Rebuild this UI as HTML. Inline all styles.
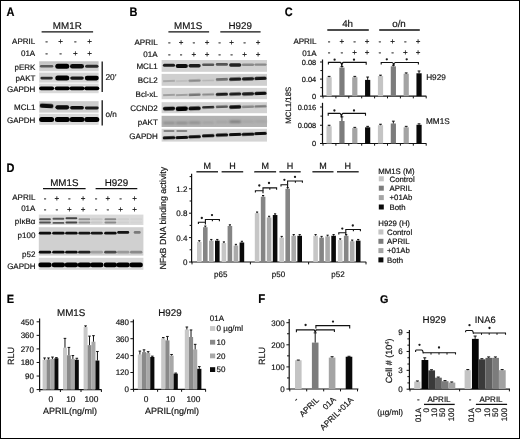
<!DOCTYPE html>
<html><head><meta charset="utf-8"><style>
html,body{margin:0;padding:0;background:#fff;}
#w{}
text{paint-order:stroke;stroke:#1a1a1a;stroke-width:0.18px;}

svg{display:block;}
text{font-family:"Liberation Sans",sans-serif;text-rendering:geometricPrecision;}
</style></head><body>
<div id="w"><svg width="520" height="439" viewBox="0 0 520 439">
<defs>
<filter id="b0" x="-30%" y="-100%" width="160%" height="300%"><feGaussianBlur stdDeviation="0.5"/></filter>
<filter id="b1" x="-30%" y="-100%" width="160%" height="300%"><feGaussianBlur stdDeviation="0.8"/></filter>
<linearGradient id="gA1" x1="0" y1="0" x2="0" y2="1"><stop offset="0" stop-color="#c2c2c2"/><stop offset="1" stop-color="#d6d6d6"/></linearGradient>
<filter id="b2" x="-30%" y="-100%" width="160%" height="300%"><feGaussianBlur stdDeviation="1.0"/></filter>
<filter id="nf" x="0" y="0" width="520" height="439" filterUnits="userSpaceOnUse"><feOffset dx="0" dy="0"/></filter>
</defs>
<rect width="520" height="439" fill="#fff"/>
<g filter="url(#nf)">
<rect x="0.5" y="0.5" width="519" height="438" fill="none" stroke="#000" stroke-width="1"/>
<text x="0" y="0" font-size="11" font-weight="bold" transform="translate(6.5 15.8) scale(1 1.12)" fill="#000">A</text>
<text x="67.3" y="28.8" font-size="9.8" text-anchor="middle" fill="#111">MM1R</text>
<line x1="41.6" y1="31.8" x2="93.1" y2="31.8" stroke="#111" stroke-width="1.3"/>
<text x="35.2" y="44.4" font-size="8" text-anchor="end" fill="#111">APRIL</text>
<text x="35.2" y="55.8" font-size="8" text-anchor="end" fill="#111">01A</text>
<text x="46.6" y="44.4" font-size="8" text-anchor="middle" fill="#111">-</text>
<text x="60.7" y="44.4" font-size="8" text-anchor="middle" fill="#111">+</text>
<text x="75.4" y="44.4" font-size="8" text-anchor="middle" fill="#111">-</text>
<text x="89.5" y="44.4" font-size="8" text-anchor="middle" fill="#111">+</text>
<text x="46.6" y="55.8" font-size="8" text-anchor="middle" fill="#111">-</text>
<text x="60.7" y="55.8" font-size="8" text-anchor="middle" fill="#111">-</text>
<text x="75.4" y="55.8" font-size="8" text-anchor="middle" fill="#111">+</text>
<text x="89.5" y="55.8" font-size="8" text-anchor="middle" fill="#111">+</text>
<rect x="39.20" y="61.30" width="59.40" height="10.00" fill="url(#gA1)"/>
<rect x="39.20" y="72.60" width="59.40" height="10.00" fill="#d4d4d4"/>
<rect x="39.20" y="83.60" width="59.40" height="9.60" fill="#dadada"/>
<rect x="39.20" y="101.20" width="59.40" height="11.40" fill="#cecece"/>
<rect x="39.20" y="113.80" width="59.40" height="11.00" fill="#d8d8d8"/>
<rect x="39.90" y="65.00" width="13.40" height="2.60" rx="1.30" fill="#5a5a5a" filter="url(#b0)"/>
<rect x="55.30" y="63.80" width="14.00" height="5.00" rx="2.50" fill="#040404" filter="url(#b0)"/>
<rect x="70.00" y="64.00" width="14.00" height="4.60" rx="2.30" fill="#101010" filter="url(#b0)"/>
<rect x="85.10" y="64.80" width="13.40" height="3.00" rx="1.50" fill="#2a2a2a" filter="url(#b0)"/>
<rect x="40.40" y="76.80" width="12.40" height="2.60" rx="1.30" fill="#2e2e2e" filter="url(#b0)"/>
<rect x="55.30" y="75.60" width="14.00" height="5.00" rx="2.50" fill="#000" filter="url(#b0)"/>
<rect x="70.20" y="76.40" width="13.60" height="3.40" rx="1.70" fill="#121212" filter="url(#b0)"/>
<rect x="84.80" y="75.80" width="14.00" height="4.60" rx="2.30" fill="#040404" filter="url(#b0)"/>
<rect x="39.10" y="86.40" width="15.00" height="3.80" rx="1.90" fill="#040404" filter="url(#b0)"/>
<rect x="54.80" y="86.40" width="15.00" height="3.80" rx="1.90" fill="#040404" filter="url(#b0)"/>
<rect x="69.50" y="86.40" width="15.00" height="3.80" rx="1.90" fill="#040404" filter="url(#b0)"/>
<rect x="84.30" y="86.40" width="15.00" height="3.80" rx="1.90" fill="#040404" filter="url(#b0)"/>
<rect x="39.70" y="103.80" width="13.80" height="4.20" rx="2.10" fill="#080808" filter="url(#b0)" transform="rotate(3 46.6 105.9)"/>
<rect x="55.40" y="105.20" width="13.80" height="4.20" rx="2.10" fill="#080808" filter="url(#b0)"/>
<rect x="70.10" y="106.10" width="13.80" height="3.40" rx="1.70" fill="#101010" filter="url(#b0)"/>
<rect x="84.90" y="106.60" width="13.80" height="2.80" rx="1.40" fill="#1a1a1a" filter="url(#b0)"/>
<rect x="39.10" y="117.00" width="15.00" height="5.00" rx="2.50" fill="#030303" filter="url(#b0)"/>
<rect x="54.80" y="117.00" width="15.00" height="5.00" rx="2.50" fill="#030303" filter="url(#b0)"/>
<rect x="69.50" y="117.00" width="15.00" height="5.00" rx="2.50" fill="#030303" filter="url(#b0)"/>
<rect x="84.30" y="117.00" width="15.00" height="5.00" rx="2.50" fill="#030303" filter="url(#b0)"/>
<text x="35.4" y="69.5" font-size="8" text-anchor="end" fill="#111">pERK</text>
<text x="35.4" y="81.10000000000001" font-size="8" text-anchor="end" fill="#111">pAKT</text>
<text x="35.4" y="91.9" font-size="8" text-anchor="end" fill="#111">GAPDH</text>
<text x="35.4" y="109.7" font-size="8" text-anchor="end" fill="#111">MCL1</text>
<text x="35.4" y="123.30000000000001" font-size="8" text-anchor="end" fill="#111">GAPDH</text>
<line x1="102.2" y1="61.5" x2="102.2" y2="92.0" stroke="#111" stroke-width="1.3"/>
<line x1="102.2" y1="100.2" x2="102.2" y2="125.5" stroke="#111" stroke-width="1.3"/>
<text x="105.4" y="79.7" font-size="8.4" fill="#111">20&#8217;</text>
<text x="105.4" y="117.4" font-size="8.2" fill="#111">o/n</text>
<text x="0" y="0" font-size="11" font-weight="bold" transform="translate(129.5 15.8) scale(1 1.12)" fill="#000">B</text>
<text x="188.2" y="28.9" font-size="9.8" text-anchor="middle" fill="#111">MM1S</text>
<text x="240.2" y="28.9" font-size="9.8" text-anchor="middle" fill="#111">H929</text>
<line x1="168.4" y1="31.9" x2="209.1" y2="31.9" stroke="#111" stroke-width="1.3"/>
<line x1="220.3" y1="31.9" x2="260.6" y2="31.9" stroke="#111" stroke-width="1.3"/>
<text x="157.6" y="45.0" font-size="8" text-anchor="end" fill="#111">APRIL</text>
<text x="157.6" y="57.4" font-size="8" text-anchor="end" fill="#111">01A</text>
<text x="169.4" y="45.0" font-size="8" text-anchor="middle" fill="#111">-</text>
<text x="181.0" y="45.0" font-size="8" text-anchor="middle" fill="#111">+</text>
<text x="193.8" y="45.0" font-size="8" text-anchor="middle" fill="#111">-</text>
<text x="207.0" y="45.0" font-size="8" text-anchor="middle" fill="#111">+</text>
<text x="219.5" y="45.0" font-size="8" text-anchor="middle" fill="#111">-</text>
<text x="231.6" y="45.0" font-size="8" text-anchor="middle" fill="#111">+</text>
<text x="244.6" y="45.0" font-size="8" text-anchor="middle" fill="#111">-</text>
<text x="258.0" y="45.0" font-size="8" text-anchor="middle" fill="#111">+</text>
<text x="169.4" y="57.4" font-size="8" text-anchor="middle" fill="#111">-</text>
<text x="181.0" y="57.4" font-size="8" text-anchor="middle" fill="#111">-</text>
<text x="193.8" y="57.4" font-size="8" text-anchor="middle" fill="#111">+</text>
<text x="207.0" y="57.4" font-size="8" text-anchor="middle" fill="#111">+</text>
<text x="219.5" y="57.4" font-size="8" text-anchor="middle" fill="#111">-</text>
<text x="231.6" y="57.4" font-size="8" text-anchor="middle" fill="#111">-</text>
<text x="244.6" y="57.4" font-size="8" text-anchor="middle" fill="#111">+</text>
<text x="258.0" y="57.4" font-size="8" text-anchor="middle" fill="#111">+</text>
<rect x="161.60" y="60.00" width="105.40" height="11.80" fill="#d2d2d2"/>
<text x="157.8" y="68.7" font-size="8" text-anchor="end" fill="#111">MCL1</text>
<rect x="161.60" y="73.90" width="105.40" height="11.90" fill="#cfcfcf"/>
<text x="157.8" y="82.5" font-size="8" text-anchor="end" fill="#111">BCL2</text>
<rect x="161.60" y="87.90" width="105.40" height="11.30" fill="#d4d4d4"/>
<text x="157.8" y="96.7" font-size="8" text-anchor="end" fill="#111">Bcl-xL</text>
<rect x="161.60" y="102.20" width="105.40" height="11.00" fill="#d2d2d2"/>
<text x="157.8" y="111.0" font-size="8" text-anchor="end" fill="#111">CCND2</text>
<rect x="161.60" y="115.80" width="105.40" height="11.20" fill="#b2b2b2"/>
<text x="157.8" y="125.3" font-size="8" text-anchor="end" fill="#111">pAKT</text>
<rect x="161.60" y="128.80" width="105.40" height="12.80" fill="#d4d4d4"/>
<text x="157.8" y="138.9" font-size="8" text-anchor="end" fill="#111">GAPDH</text>
<rect x="162.90" y="63.70" width="12.20" height="3.00" rx="1.50" fill="#1e1e1e" filter="url(#b0)"/>
<rect x="175.70" y="64.00" width="12.20" height="4.00" rx="2.00" fill="#0a0a0a" filter="url(#b0)"/>
<rect x="188.50" y="64.10" width="12.20" height="3.40" rx="1.70" fill="#1a1a1a" filter="url(#b0)"/>
<rect x="202.10" y="63.50" width="12.20" height="2.60" rx="1.30" fill="#555" filter="url(#b0)"/>
<rect x="215.80" y="63.00" width="12.20" height="2.80" rx="1.40" fill="#555" filter="url(#b0)"/>
<rect x="229.10" y="63.30" width="12.20" height="3.40" rx="1.70" fill="#202020" filter="url(#b0)"/>
<rect x="241.90" y="63.50" width="12.20" height="2.60" rx="1.30" fill="#8a8a8a" filter="url(#b0)"/>
<rect x="254.40" y="63.40" width="12.20" height="2.40" rx="1.20" fill="#8a8a8a" filter="url(#b0)"/>
<rect x="162.90" y="80.00" width="12.20" height="2.00" rx="1.00" fill="#aaa" filter="url(#b0)" transform="rotate(-2 169.0 81.0)"/>
<rect x="175.70" y="80.20" width="12.20" height="1.60" rx="0.80" fill="#bcbcbc" filter="url(#b0)" transform="rotate(-2 181.8 81.0)"/>
<rect x="188.50" y="79.40" width="12.20" height="2.40" rx="1.20" fill="#8a8a8a" filter="url(#b0)" transform="rotate(-2 194.6 80.6)"/>
<rect x="202.10" y="79.70" width="12.20" height="1.60" rx="0.80" fill="#b5b5b5" filter="url(#b0)" transform="rotate(-2 208.2 80.5)"/>
<rect x="215.80" y="78.10" width="12.20" height="2.60" rx="1.30" fill="#6e6e6e" filter="url(#b0)" transform="rotate(-2 221.9 79.4)"/>
<rect x="229.10" y="77.60" width="12.20" height="3.20" rx="1.60" fill="#1e1e1e" filter="url(#b0)" transform="rotate(-2 235.2 79.2)"/>
<rect x="241.90" y="77.20" width="12.20" height="3.20" rx="1.60" fill="#1a1a1a" filter="url(#b0)" transform="rotate(-2 248.0 78.8)"/>
<rect x="254.40" y="76.80" width="12.20" height="3.20" rx="1.60" fill="#141414" filter="url(#b0)" transform="rotate(-2 260.5 78.4)"/>
<rect x="162.90" y="94.10" width="12.20" height="1.80" rx="0.90" fill="#a0a0a0" filter="url(#b0)" transform="rotate(-2 169.0 95.0)"/>
<rect x="175.70" y="94.10" width="12.20" height="1.80" rx="0.90" fill="#a0a0a0" filter="url(#b0)" transform="rotate(-2 181.8 95.0)"/>
<rect x="188.50" y="93.60" width="12.20" height="2.40" rx="1.20" fill="#777" filter="url(#b0)" transform="rotate(-2 194.6 94.8)"/>
<rect x="202.10" y="93.60" width="12.20" height="2.00" rx="1.00" fill="#8a8a8a" filter="url(#b0)" transform="rotate(-2 208.2 94.6)"/>
<rect x="215.80" y="92.80" width="12.20" height="3.00" rx="1.50" fill="#1a1a1a" filter="url(#b0)" transform="rotate(-2 221.9 94.3)"/>
<rect x="229.10" y="92.40" width="12.20" height="3.20" rx="1.60" fill="#1a1a1a" filter="url(#b0)" transform="rotate(-2 235.2 94.0)"/>
<rect x="241.90" y="92.20" width="12.20" height="3.20" rx="1.60" fill="#1a1a1a" filter="url(#b0)" transform="rotate(-2 248.0 93.8)"/>
<rect x="254.40" y="91.70" width="12.20" height="3.40" rx="1.70" fill="#0a0a0a" filter="url(#b0)" transform="rotate(-2 260.5 93.4)"/>
<rect x="162.90" y="106.80" width="12.20" height="3.60" rx="1.80" fill="#0a0a0a" filter="url(#b0)" transform="rotate(-2 169.0 108.6)"/>
<rect x="175.70" y="106.60" width="12.20" height="4.40" rx="2.20" fill="#050505" filter="url(#b0)" transform="rotate(-2 181.8 108.8)"/>
<rect x="188.50" y="106.50" width="12.20" height="3.80" rx="1.90" fill="#0a0a0a" filter="url(#b0)" transform="rotate(-2 194.6 108.4)"/>
<rect x="202.10" y="105.90" width="12.20" height="2.60" rx="1.30" fill="#2a2a2a" filter="url(#b0)" transform="rotate(-2 208.2 107.2)"/>
<rect x="215.80" y="105.60" width="12.20" height="2.40" rx="1.20" fill="#5a5a5a" filter="url(#b0)" transform="rotate(-2 221.9 106.8)"/>
<rect x="229.10" y="105.30" width="12.20" height="3.40" rx="1.70" fill="#0a0a0a" filter="url(#b0)" transform="rotate(-2 235.2 107.0)"/>
<rect x="241.90" y="105.60" width="12.20" height="2.40" rx="1.20" fill="#8a8a8a" filter="url(#b0)" transform="rotate(-2 248.0 106.8)"/>
<rect x="254.40" y="105.20" width="12.20" height="2.40" rx="1.20" fill="#7a7a7a" filter="url(#b0)" transform="rotate(-2 260.5 106.4)"/>
<rect x="163.00" y="121.80" width="12.00" height="2.40" rx="1.20" fill="#8e8e8e" filter="url(#b1)"/>
<rect x="175.80" y="121.80" width="12.00" height="2.40" rx="1.20" fill="#8a8a8a" filter="url(#b1)"/>
<rect x="188.60" y="121.60" width="12.00" height="2.40" rx="1.20" fill="#8e8e8e" filter="url(#b1)"/>
<rect x="202.20" y="121.40" width="12.00" height="2.40" rx="1.20" fill="#a0a0a0" filter="url(#b1)"/>
<rect x="215.90" y="120.80" width="12.00" height="2.40" rx="1.20" fill="#a2a2a2" filter="url(#b1)"/>
<rect x="229.20" y="120.60" width="12.00" height="2.40" rx="1.20" fill="#7a7a7a" filter="url(#b1)"/>
<rect x="242.00" y="120.40" width="12.00" height="2.40" rx="1.20" fill="#a4a4a4" filter="url(#b1)"/>
<rect x="254.50" y="120.20" width="12.00" height="2.40" rx="1.20" fill="#a4a4a4" filter="url(#b1)"/>
<rect x="162.70" y="136.30" width="12.60" height="3.00" rx="1.50" fill="#0a0a0a" filter="url(#b0)" transform="rotate(-2 169.0 137.8)"/>
<rect x="175.50" y="135.90" width="12.60" height="3.00" rx="1.50" fill="#0a0a0a" filter="url(#b0)" transform="rotate(-2 181.8 137.4)"/>
<rect x="188.30" y="135.30" width="12.60" height="3.00" rx="1.50" fill="#0a0a0a" filter="url(#b0)" transform="rotate(-2 194.6 136.8)"/>
<rect x="201.90" y="134.30" width="12.60" height="3.00" rx="1.50" fill="#0a0a0a" filter="url(#b0)" transform="rotate(-2 208.2 135.8)"/>
<rect x="215.60" y="133.50" width="12.60" height="3.00" rx="1.50" fill="#0a0a0a" filter="url(#b0)" transform="rotate(-2 221.9 135.0)"/>
<rect x="228.90" y="133.10" width="12.60" height="3.00" rx="1.50" fill="#0a0a0a" filter="url(#b0)" transform="rotate(-2 235.2 134.6)"/>
<rect x="241.70" y="132.70" width="12.60" height="3.00" rx="1.50" fill="#0a0a0a" filter="url(#b0)" transform="rotate(-2 248.0 134.2)"/>
<rect x="254.20" y="132.10" width="12.60" height="3.00" rx="1.50" fill="#0a0a0a" filter="url(#b0)" transform="rotate(-2 260.5 133.6)"/>
<rect x="163.50" y="130.20" width="11.00" height="1.60" rx="0.80" fill="#6a6a6a" filter="url(#b0)"/>
<rect x="176.30" y="130.20" width="11.00" height="1.60" rx="0.80" fill="#6a6a6a" filter="url(#b0)"/>
<text x="0" y="0" font-size="11" font-weight="bold" transform="translate(284.7 15.9) scale(1 1.12)" fill="#000">C</text>
<text x="347.6" y="27.4" font-size="9.8" text-anchor="middle" fill="#111">4h</text>
<text x="399.0" y="27.4" font-size="9.8" text-anchor="middle" fill="#111">o/n</text>
<line x1="327.3" y1="30.0" x2="368.8" y2="30.0" stroke="#111" stroke-width="1.3"/>
<line x1="379.2" y1="30.0" x2="419.8" y2="30.0" stroke="#111" stroke-width="1.3"/>
<text x="316.5" y="44.4" font-size="8" text-anchor="end" fill="#111">APRIL</text>
<text x="316.5" y="55.6" font-size="8" text-anchor="end" fill="#111">01A</text>
<text x="329.1" y="43.9" font-size="8" text-anchor="middle" fill="#111">-</text>
<text x="341.8" y="43.9" font-size="8" text-anchor="middle" fill="#111">+</text>
<text x="354.5" y="43.9" font-size="8" text-anchor="middle" fill="#111">-</text>
<text x="367.20000000000005" y="43.9" font-size="8" text-anchor="middle" fill="#111">+</text>
<text x="379.90000000000003" y="43.9" font-size="8" text-anchor="middle" fill="#111">-</text>
<text x="392.6" y="43.9" font-size="8" text-anchor="middle" fill="#111">+</text>
<text x="405.3" y="43.9" font-size="8" text-anchor="middle" fill="#111">-</text>
<text x="418.0" y="43.9" font-size="8" text-anchor="middle" fill="#111">+</text>
<text x="329.1" y="55.2" font-size="8" text-anchor="middle" fill="#111">-</text>
<text x="341.8" y="55.2" font-size="8" text-anchor="middle" fill="#111">-</text>
<text x="354.5" y="55.2" font-size="8" text-anchor="middle" fill="#111">+</text>
<text x="367.20000000000005" y="55.2" font-size="8" text-anchor="middle" fill="#111">+</text>
<text x="379.90000000000003" y="55.2" font-size="8" text-anchor="middle" fill="#111">-</text>
<text x="392.6" y="55.2" font-size="8" text-anchor="middle" fill="#111">-</text>
<text x="405.3" y="55.2" font-size="8" text-anchor="middle" fill="#111">+</text>
<text x="418.0" y="55.2" font-size="8" text-anchor="middle" fill="#111">+</text>
<line x1="322.5" y1="59.5" x2="322.5" y2="96.6" stroke="#111" stroke-width="1.2"/>
<line x1="322.5" y1="96.2" x2="426.4" y2="96.2" stroke="#111" stroke-width="1.2"/>
<line x1="320.0" y1="62.0" x2="322.5" y2="62.0" stroke="#111" stroke-width="1"/>
<text x="316.2" y="64.7" font-size="7.4" text-anchor="end" fill="#111">0.08</text>
<line x1="320.0" y1="79.1" x2="322.5" y2="79.1" stroke="#111" stroke-width="1"/>
<text x="316.2" y="81.8" font-size="7.4" text-anchor="end" fill="#111">0.04</text>
<line x1="320.0" y1="96.2" x2="322.5" y2="96.2" stroke="#111" stroke-width="1"/>
<text x="316.2" y="98.9" font-size="7.4" text-anchor="end" fill="#111">0</text>
<line x1="320.4" y1="70.55" x2="322.5" y2="70.55" stroke="#111" stroke-width="1"/>
<line x1="320.4" y1="87.65" x2="322.5" y2="87.65" stroke="#111" stroke-width="1"/>
<rect x="326.50" y="77.22" width="5.20" height="18.98" fill="#c4c4c4"/>
<line x1="329.1" y1="77.219" x2="329.1" y2="76.377" stroke="#111" stroke-width="1"/>
<line x1="327.70000000000005" y1="76.377" x2="330.5" y2="76.377" stroke="#111" stroke-width="1"/>
<rect x="339.35" y="67.60" width="5.20" height="28.60" fill="#7c7c7c"/>
<line x1="341.95000000000005" y1="67.60025" x2="341.95000000000005" y2="66.459" stroke="#111" stroke-width="1"/>
<line x1="340.55000000000007" y1="66.459" x2="343.35" y2="66.459" stroke="#111" stroke-width="1"/>
<rect x="352.20" y="77.22" width="5.20" height="18.98" fill="#a4a4a4"/>
<line x1="354.8" y1="77.219" x2="354.8" y2="76.377" stroke="#111" stroke-width="1"/>
<line x1="353.40000000000003" y1="76.377" x2="356.2" y2="76.377" stroke="#111" stroke-width="1"/>
<rect x="365.05" y="79.91" width="5.20" height="16.29" fill="#0a0a0a"/>
<line x1="367.65000000000003" y1="79.91225" x2="367.65000000000003" y2="77.061" stroke="#111" stroke-width="1"/>
<line x1="366.25000000000006" y1="77.061" x2="369.05" y2="77.061" stroke="#111" stroke-width="1"/>
<rect x="377.90" y="76.02" width="5.20" height="20.18" fill="#c4c4c4"/>
<line x1="380.5" y1="76.022" x2="380.5" y2="75.18" stroke="#111" stroke-width="1"/>
<line x1="379.1" y1="75.18" x2="381.9" y2="75.18" stroke="#111" stroke-width="1"/>
<rect x="390.75" y="66.32" width="5.20" height="29.88" fill="#7c7c7c"/>
<line x1="393.35" y1="66.31775" x2="393.35" y2="65.1765" stroke="#111" stroke-width="1"/>
<line x1="391.95000000000005" y1="65.1765" x2="394.75" y2="65.1765" stroke="#111" stroke-width="1"/>
<rect x="403.60" y="73.76" width="5.20" height="22.44" fill="#a4a4a4"/>
<line x1="406.20000000000005" y1="73.75625" x2="406.20000000000005" y2="72.91425" stroke="#111" stroke-width="1"/>
<line x1="404.80000000000007" y1="72.91425" x2="407.6" y2="72.91425" stroke="#111" stroke-width="1"/>
<rect x="416.45" y="73.29" width="5.20" height="22.91" fill="#0a0a0a"/>
<line x1="419.05" y1="73.286" x2="419.05" y2="70.9905" stroke="#111" stroke-width="1"/>
<line x1="417.65000000000003" y1="70.9905" x2="420.45" y2="70.9905" stroke="#111" stroke-width="1"/>
<line x1="323.0" y1="96.2" x2="323.0" y2="98.4" stroke="#111" stroke-width="1"/>
<line x1="335.9" y1="96.2" x2="335.9" y2="98.4" stroke="#111" stroke-width="1"/>
<line x1="348.8" y1="96.2" x2="348.8" y2="98.4" stroke="#111" stroke-width="1"/>
<line x1="361.7" y1="96.2" x2="361.7" y2="98.4" stroke="#111" stroke-width="1"/>
<line x1="374.6" y1="96.2" x2="374.6" y2="98.4" stroke="#111" stroke-width="1"/>
<line x1="387.5" y1="96.2" x2="387.5" y2="98.4" stroke="#111" stroke-width="1"/>
<line x1="400.4" y1="96.2" x2="400.4" y2="98.4" stroke="#111" stroke-width="1"/>
<line x1="413.3" y1="96.2" x2="413.3" y2="98.4" stroke="#111" stroke-width="1"/>
<line x1="426.2" y1="96.2" x2="426.2" y2="98.4" stroke="#111" stroke-width="1"/>
<path d="M328.4,64.6 L328.4,62.4 L340.2,62.4 Q341.6,62.6 341.8,66.2 Q342.0,62.6 343.4,62.4 L366.2,62.4 L366.2,64.8" stroke="#111" stroke-width="1.1" fill="none"/>
<circle cx="334.6" cy="59.7" r="1.15" fill="#1a1a1a"/>
<circle cx="354.0" cy="59.7" r="1.15" fill="#1a1a1a"/>
<path d="M381.2,64.6 L381.2,62.5 L392.2,62.5 Q393.4,62.7 393.7,65.4 Q394.0,62.7 395.2,62.5 L418.4,62.5 L418.4,64.6" stroke="#111" stroke-width="1.1" fill="none"/>
<circle cx="386.8" cy="59.3" r="1.15" fill="#1a1a1a"/>
<circle cx="406.7" cy="59.3" r="1.15" fill="#1a1a1a"/>
<line x1="322.5" y1="102.8" x2="322.5" y2="143.9" stroke="#111" stroke-width="1.2"/>
<line x1="322.5" y1="143.5" x2="426.4" y2="143.5" stroke="#111" stroke-width="1.2"/>
<line x1="320.0" y1="107.0" x2="322.5" y2="107.0" stroke="#111" stroke-width="1"/>
<text x="316.2" y="109.7" font-size="7.4" text-anchor="end" fill="#111">0.016</text>
<line x1="320.0" y1="125.25" x2="322.5" y2="125.25" stroke="#111" stroke-width="1"/>
<text x="316.2" y="127.95" font-size="7.4" text-anchor="end" fill="#111">0.008</text>
<line x1="320.0" y1="143.5" x2="322.5" y2="143.5" stroke="#111" stroke-width="1"/>
<text x="316.2" y="146.2" font-size="7.4" text-anchor="end" fill="#111">0</text>
<line x1="320.4" y1="116.125" x2="322.5" y2="116.125" stroke="#111" stroke-width="1"/>
<line x1="320.4" y1="134.375" x2="322.5" y2="134.375" stroke="#111" stroke-width="1"/>
<rect x="326.50" y="126.21" width="5.20" height="17.29" fill="#c4c4c4"/>
<line x1="329.1" y1="126.208125" x2="329.1" y2="125.251875" stroke="#111" stroke-width="1"/>
<line x1="327.70000000000005" y1="125.251875" x2="330.5" y2="125.251875" stroke="#111" stroke-width="1"/>
<rect x="339.35" y="121.01" width="5.20" height="22.49" fill="#7c7c7c"/>
<line x1="341.95000000000005" y1="121.006875" x2="341.95000000000005" y2="116.85687499999999" stroke="#111" stroke-width="1"/>
<line x1="340.55000000000007" y1="116.85687499999999" x2="343.35" y2="116.85687499999999" stroke="#111" stroke-width="1"/>
<rect x="352.20" y="128.10" width="5.20" height="15.40" fill="#a4a4a4"/>
<line x1="354.8" y1="128.1015625" x2="354.8" y2="127.3734375" stroke="#111" stroke-width="1"/>
<line x1="353.40000000000003" y1="127.3734375" x2="356.2" y2="127.3734375" stroke="#111" stroke-width="1"/>
<rect x="365.05" y="127.30" width="5.20" height="16.20" fill="#0a0a0a"/>
<line x1="367.65000000000003" y1="127.303125" x2="367.65000000000003" y2="126.346875" stroke="#111" stroke-width="1"/>
<line x1="366.25000000000006" y1="126.346875" x2="369.05" y2="126.346875" stroke="#111" stroke-width="1"/>
<rect x="377.90" y="125.20" width="5.20" height="18.30" fill="#c4c4c4"/>
<line x1="380.5" y1="125.204375" x2="380.5" y2="124.248125" stroke="#111" stroke-width="1"/>
<line x1="379.1" y1="124.248125" x2="381.9" y2="124.248125" stroke="#111" stroke-width="1"/>
<rect x="390.75" y="123.49" width="5.20" height="20.01" fill="#7c7c7c"/>
<line x1="393.35" y1="123.4934375" x2="393.35" y2="121.1684375" stroke="#111" stroke-width="1"/>
<line x1="391.95000000000005" y1="121.1684375" x2="394.75" y2="121.1684375" stroke="#111" stroke-width="1"/>
<rect x="403.60" y="127.30" width="5.20" height="16.20" fill="#a4a4a4"/>
<line x1="406.20000000000005" y1="127.303125" x2="406.20000000000005" y2="126.346875" stroke="#111" stroke-width="1"/>
<line x1="404.80000000000007" y1="126.346875" x2="407.6" y2="126.346875" stroke="#111" stroke-width="1"/>
<rect x="416.45" y="124.79" width="5.20" height="18.71" fill="#0a0a0a"/>
<line x1="419.05" y1="124.79375" x2="419.05" y2="123.8375" stroke="#111" stroke-width="1"/>
<line x1="417.65000000000003" y1="123.8375" x2="420.45" y2="123.8375" stroke="#111" stroke-width="1"/>
<line x1="323.0" y1="143.5" x2="323.0" y2="145.7" stroke="#111" stroke-width="1"/>
<line x1="335.9" y1="143.5" x2="335.9" y2="145.7" stroke="#111" stroke-width="1"/>
<line x1="348.8" y1="143.5" x2="348.8" y2="145.7" stroke="#111" stroke-width="1"/>
<line x1="361.7" y1="143.5" x2="361.7" y2="145.7" stroke="#111" stroke-width="1"/>
<line x1="374.6" y1="143.5" x2="374.6" y2="145.7" stroke="#111" stroke-width="1"/>
<line x1="387.5" y1="143.5" x2="387.5" y2="145.7" stroke="#111" stroke-width="1"/>
<line x1="400.4" y1="143.5" x2="400.4" y2="145.7" stroke="#111" stroke-width="1"/>
<line x1="413.3" y1="143.5" x2="413.3" y2="145.7" stroke="#111" stroke-width="1"/>
<line x1="426.2" y1="143.5" x2="426.2" y2="145.7" stroke="#111" stroke-width="1"/>
<path d="M328.2,115.7 L328.2,113.4 L339.9,113.4 Q341.2,113.6 341.4,117.4 Q341.6,113.6 342.9,113.4 L365.5,113.4 L365.5,115.7" stroke="#111" stroke-width="1.1" fill="none"/>
<circle cx="334.4" cy="110.5" r="1.15" fill="#1a1a1a"/>
<circle cx="354.0" cy="110.5" r="1.15" fill="#1a1a1a"/>
<text x="291.4" y="105.2" font-size="7.8" text-anchor="middle" transform="rotate(-90 291.4 105.2)" fill="#111">MCL1/18S</text>
<text x="426.2" y="80.0" font-size="8.2" fill="#111">H929</text>
<text x="426.0" y="124.0" font-size="8.2" fill="#111">MM1S</text>
<text x="0" y="0" font-size="11" font-weight="bold" transform="translate(6.6 171.8) scale(1 1.12)" fill="#000">D</text>
<text x="64.3" y="185.7" font-size="9.8" text-anchor="middle" fill="#111">MM1S</text>
<text x="116.4" y="185.7" font-size="9.8" text-anchor="middle" fill="#111">H929</text>
<line x1="43.0" y1="188.6" x2="85.6" y2="188.6" stroke="#111" stroke-width="1.3"/>
<line x1="95.6" y1="188.6" x2="137.3" y2="188.6" stroke="#111" stroke-width="1.3"/>
<text x="35.4" y="200.0" font-size="8" text-anchor="end" fill="#111">APRIL</text>
<text x="35.4" y="211.0" font-size="8" text-anchor="end" fill="#111">01A</text>
<text x="45.1" y="200.9" font-size="8" text-anchor="middle" fill="#111">-</text>
<text x="56.9" y="200.9" font-size="8" text-anchor="middle" fill="#111">+</text>
<text x="69.4" y="200.9" font-size="8" text-anchor="middle" fill="#111">-</text>
<text x="83.0" y="200.9" font-size="8" text-anchor="middle" fill="#111">+</text>
<text x="96.0" y="200.9" font-size="8" text-anchor="middle" fill="#111">-</text>
<text x="107.8" y="200.9" font-size="8" text-anchor="middle" fill="#111">+</text>
<text x="120.6" y="200.9" font-size="8" text-anchor="middle" fill="#111">-</text>
<text x="134.5" y="200.9" font-size="8" text-anchor="middle" fill="#111">+</text>
<text x="45.1" y="211.8" font-size="8" text-anchor="middle" fill="#111">-</text>
<text x="56.9" y="211.8" font-size="8" text-anchor="middle" fill="#111">-</text>
<text x="69.4" y="211.8" font-size="8" text-anchor="middle" fill="#111">+</text>
<text x="83.0" y="211.8" font-size="8" text-anchor="middle" fill="#111">+</text>
<text x="96.0" y="211.8" font-size="8" text-anchor="middle" fill="#111">-</text>
<text x="107.8" y="211.8" font-size="8" text-anchor="middle" fill="#111">-</text>
<text x="120.6" y="211.8" font-size="8" text-anchor="middle" fill="#111">+</text>
<text x="134.5" y="211.8" font-size="8" text-anchor="middle" fill="#111">+</text>
<rect x="38.80" y="214.60" width="104.60" height="10.40" fill="#dadada"/>
<rect x="38.80" y="227.20" width="104.60" height="28.40" fill="#d0d0d0"/>
<rect x="38.80" y="257.80" width="104.60" height="12.00" fill="#d8d8d8"/>
<text x="35.4" y="224.4" font-size="8" text-anchor="end" fill="#111">pI&#954;B&#945;</text>
<text x="35.4" y="237.6" font-size="8" text-anchor="end" fill="#111">p100</text>
<text x="35.4" y="256.6" font-size="8" text-anchor="end" fill="#111">p52</text>
<text x="35.6" y="268.8" font-size="8" text-anchor="end" fill="#111">GAPDH</text>
<rect x="39.10" y="218.25" width="11.80" height="1.90" rx="0.95" fill="#525252" filter="url(#b0)"/>
<rect x="39.10" y="221.55" width="11.80" height="1.90" rx="0.95" fill="#525252" filter="url(#b0)"/>
<rect x="52.50" y="217.75" width="11.80" height="1.90" rx="0.95" fill="#585858" filter="url(#b0)"/>
<rect x="52.50" y="221.95" width="11.80" height="1.90" rx="0.95" fill="#585858" filter="url(#b0)"/>
<rect x="65.50" y="217.25" width="11.80" height="1.90" rx="0.95" fill="#444444" filter="url(#b0)"/>
<rect x="65.50" y="221.55" width="11.80" height="1.90" rx="0.95" fill="#444444" filter="url(#b0)"/>
<rect x="78.50" y="218.25" width="11.80" height="1.90" rx="0.95" fill="#949494" filter="url(#b0)"/>
<rect x="78.50" y="221.55" width="11.80" height="1.90" rx="0.95" fill="#949494" filter="url(#b0)"/>
<rect x="90.90" y="218.25" width="11.80" height="1.90" rx="0.95" fill="#c8c8c8" filter="url(#b0)"/>
<rect x="90.90" y="221.55" width="11.80" height="1.90" rx="0.95" fill="#c8c8c8" filter="url(#b0)"/>
<rect x="104.50" y="218.25" width="11.80" height="1.90" rx="0.95" fill="#8a8a8a" filter="url(#b0)"/>
<rect x="104.50" y="221.55" width="11.80" height="1.90" rx="0.95" fill="#8a8a8a" filter="url(#b0)"/>
<rect x="117.30" y="218.25" width="11.80" height="1.90" rx="0.95" fill="#d0d0d0" filter="url(#b0)"/>
<rect x="117.30" y="221.55" width="11.80" height="1.90" rx="0.95" fill="#d0d0d0" filter="url(#b0)"/>
<rect x="130.30" y="218.25" width="11.80" height="1.90" rx="0.95" fill="#d4d4d4" filter="url(#b0)"/>
<rect x="130.30" y="221.55" width="11.80" height="1.90" rx="0.95" fill="#d4d4d4" filter="url(#b0)"/>
<rect x="38.80" y="231.80" width="12.40" height="2.80" rx="1.40" fill="#0c0c0c" filter="url(#b0)"/>
<rect x="52.20" y="231.80" width="12.40" height="2.80" rx="1.40" fill="#0c0c0c" filter="url(#b0)"/>
<rect x="65.20" y="231.80" width="12.40" height="2.80" rx="1.40" fill="#101010" filter="url(#b0)"/>
<rect x="78.40" y="231.80" width="12.00" height="2.80" rx="1.40" fill="#181818" filter="url(#b0)"/>
<rect x="90.80" y="231.80" width="12.00" height="2.80" rx="1.40" fill="#181818" filter="url(#b0)"/>
<rect x="104.20" y="231.80" width="12.40" height="2.80" rx="1.40" fill="#101010" filter="url(#b0)"/>
<rect x="117.20" y="231.00" width="12.00" height="2.80" rx="1.40" fill="#121212" filter="url(#b0)"/>
<rect x="133.70" y="231.00" width="7.00" height="2.80" rx="1.40" fill="#7a7a7a" filter="url(#b0)"/>
<rect x="38.80" y="250.80" width="12.40" height="2.80" rx="1.40" fill="#0c0c0c" filter="url(#b0)"/>
<rect x="52.20" y="250.80" width="12.40" height="2.80" rx="1.40" fill="#101010" filter="url(#b0)"/>
<rect x="65.20" y="250.80" width="12.40" height="2.80" rx="1.40" fill="#101010" filter="url(#b0)"/>
<rect x="78.20" y="250.80" width="12.40" height="2.80" rx="1.40" fill="#202020" filter="url(#b0)"/>
<rect x="90.60" y="250.80" width="12.40" height="2.80" rx="1.40" fill="#a0a0a0" filter="url(#b0)"/>
<rect x="104.20" y="250.80" width="12.40" height="2.80" rx="1.40" fill="#4a4a4a" filter="url(#b0)"/>
<rect x="117.00" y="250.80" width="12.40" height="2.80" rx="1.40" fill="#9a9a9a" filter="url(#b0)"/>
<rect x="130.00" y="250.80" width="12.40" height="2.80" rx="1.40" fill="#8a8a8a" filter="url(#b0)"/>
<rect x="38.30" y="262.60" width="13.40" height="4.60" rx="2.30" fill="#030303" filter="url(#b0)"/>
<rect x="51.70" y="262.60" width="13.40" height="4.60" rx="2.30" fill="#030303" filter="url(#b0)"/>
<rect x="64.70" y="262.60" width="13.40" height="4.60" rx="2.30" fill="#030303" filter="url(#b0)"/>
<rect x="77.70" y="262.60" width="13.40" height="4.60" rx="2.30" fill="#030303" filter="url(#b0)"/>
<rect x="90.10" y="262.60" width="13.40" height="4.60" rx="2.30" fill="#030303" filter="url(#b0)"/>
<rect x="103.70" y="262.60" width="13.40" height="4.60" rx="2.30" fill="#030303" filter="url(#b0)"/>
<rect x="116.50" y="262.60" width="13.40" height="4.60" rx="2.30" fill="#030303" filter="url(#b0)"/>
<rect x="129.50" y="262.60" width="13.40" height="4.60" rx="2.30" fill="#030303" filter="url(#b0)"/>
<line x1="191.6" y1="173.8" x2="191.6" y2="262.4" stroke="#111" stroke-width="1.2"/>
<line x1="191.6" y1="262.0" x2="366.2" y2="262.0" stroke="#111" stroke-width="1.2"/>
<line x1="189.0" y1="188.8" x2="191.6" y2="188.8" stroke="#111" stroke-width="1"/>
<text x="187.4" y="191.70000000000002" font-size="8" text-anchor="end" fill="#111">1.2</text>
<line x1="189.0" y1="213.2" x2="191.6" y2="213.2" stroke="#111" stroke-width="1"/>
<text x="187.4" y="216.1" font-size="8" text-anchor="end" fill="#111">0.8</text>
<line x1="189.0" y1="237.6" x2="191.6" y2="237.6" stroke="#111" stroke-width="1"/>
<text x="187.4" y="240.5" font-size="8" text-anchor="end" fill="#111">0.4</text>
<line x1="189.0" y1="262.0" x2="191.6" y2="262.0" stroke="#111" stroke-width="1"/>
<text x="187.4" y="264.9" font-size="8" text-anchor="end" fill="#111">0</text>
<line x1="189.6" y1="176.60000000000002" x2="191.6" y2="176.60000000000002" stroke="#111" stroke-width="1"/>
<line x1="189.6" y1="201.0" x2="191.6" y2="201.0" stroke="#111" stroke-width="1"/>
<line x1="189.6" y1="225.4" x2="191.6" y2="225.4" stroke="#111" stroke-width="1"/>
<line x1="189.6" y1="249.8" x2="191.6" y2="249.8" stroke="#111" stroke-width="1"/>
<line x1="192.0" y1="262.0" x2="192.0" y2="264.4" stroke="#111" stroke-width="1"/>
<line x1="250.4" y1="262.0" x2="250.4" y2="264.4" stroke="#111" stroke-width="1"/>
<line x1="308.6" y1="262.0" x2="308.6" y2="264.4" stroke="#111" stroke-width="1"/>
<line x1="366.0" y1="262.0" x2="366.0" y2="264.4" stroke="#111" stroke-width="1"/>
<text x="165.7" y="218.2" font-size="8.8" text-anchor="middle" transform="rotate(-90 165.7 218.2)" fill="#111">NF&#954;B DNA binding activity</text>
<rect x="197.00" y="241.87" width="4.60" height="20.13" fill="#c6c6c6"/>
<line x1="199.3" y1="241.87" x2="199.3" y2="240.67000000000002" stroke="#111" stroke-width="1"/>
<line x1="198.2" y1="240.67000000000002" x2="200.4" y2="240.67000000000002" stroke="#111" stroke-width="1"/>
<rect x="203.00" y="227.23" width="4.60" height="34.77" fill="#858585"/>
<line x1="205.3" y1="227.23000000000002" x2="205.3" y2="226.03000000000003" stroke="#111" stroke-width="1"/>
<line x1="204.2" y1="226.03000000000003" x2="206.4" y2="226.03000000000003" stroke="#111" stroke-width="1"/>
<rect x="209.00" y="240.65" width="4.60" height="21.35" fill="#aaaaaa"/>
<line x1="211.3" y1="240.65" x2="211.3" y2="239.45000000000002" stroke="#111" stroke-width="1"/>
<line x1="210.2" y1="239.45000000000002" x2="212.4" y2="239.45000000000002" stroke="#111" stroke-width="1"/>
<rect x="215.00" y="240.65" width="4.60" height="21.35" fill="#0a0a0a"/>
<line x1="217.3" y1="240.65" x2="217.3" y2="239.45000000000002" stroke="#111" stroke-width="1"/>
<line x1="216.2" y1="239.45000000000002" x2="218.4" y2="239.45000000000002" stroke="#111" stroke-width="1"/>
<rect x="221.60" y="243.09" width="4.60" height="18.91" fill="#c6c6c6"/>
<line x1="223.9" y1="243.09" x2="223.9" y2="241.89000000000001" stroke="#111" stroke-width="1"/>
<line x1="222.79999999999998" y1="241.89000000000001" x2="225.0" y2="241.89000000000001" stroke="#111" stroke-width="1"/>
<rect x="227.60" y="226.01" width="4.60" height="35.99" fill="#858585"/>
<line x1="229.9" y1="226.01" x2="229.9" y2="224.81" stroke="#111" stroke-width="1"/>
<line x1="228.79999999999998" y1="224.81" x2="231.0" y2="224.81" stroke="#111" stroke-width="1"/>
<rect x="233.60" y="245.53" width="4.60" height="16.47" fill="#aaaaaa"/>
<line x1="235.9" y1="245.53" x2="235.9" y2="244.33" stroke="#111" stroke-width="1"/>
<line x1="234.79999999999998" y1="244.33" x2="237.0" y2="244.33" stroke="#111" stroke-width="1"/>
<rect x="239.60" y="242.48" width="4.60" height="19.52" fill="#0a0a0a"/>
<line x1="241.9" y1="242.48000000000002" x2="241.9" y2="241.28000000000003" stroke="#111" stroke-width="1"/>
<line x1="240.79999999999998" y1="241.28000000000003" x2="243.0" y2="241.28000000000003" stroke="#111" stroke-width="1"/>
<rect x="254.80" y="213.20" width="4.60" height="48.80" fill="#c6c6c6"/>
<line x1="257.1" y1="213.2" x2="257.1" y2="212.0" stroke="#111" stroke-width="1"/>
<line x1="256.0" y1="212.0" x2="258.2" y2="212.0" stroke="#111" stroke-width="1"/>
<rect x="260.80" y="196.73" width="4.60" height="65.27" fill="#858585"/>
<line x1="263.1" y1="196.73000000000002" x2="263.1" y2="195.53000000000003" stroke="#111" stroke-width="1"/>
<line x1="262.0" y1="195.53000000000003" x2="264.2" y2="195.53000000000003" stroke="#111" stroke-width="1"/>
<rect x="266.80" y="217.47" width="4.60" height="44.53" fill="#aaaaaa"/>
<line x1="269.1" y1="217.47" x2="269.1" y2="216.27" stroke="#111" stroke-width="1"/>
<line x1="268.0" y1="216.27" x2="270.2" y2="216.27" stroke="#111" stroke-width="1"/>
<rect x="272.80" y="215.03" width="4.60" height="46.97" fill="#0a0a0a"/>
<line x1="275.1" y1="215.03" x2="275.1" y2="213.83" stroke="#111" stroke-width="1"/>
<line x1="274.0" y1="213.83" x2="276.2" y2="213.83" stroke="#111" stroke-width="1"/>
<rect x="279.40" y="237.60" width="4.60" height="24.40" fill="#c6c6c6"/>
<line x1="281.70000000000005" y1="237.6" x2="281.70000000000005" y2="236.4" stroke="#111" stroke-width="1"/>
<line x1="280.6" y1="236.4" x2="282.8" y2="236.4" stroke="#111" stroke-width="1"/>
<rect x="285.40" y="188.80" width="4.60" height="73.20" fill="#858585"/>
<line x1="287.70000000000005" y1="188.8" x2="287.70000000000005" y2="187.60000000000002" stroke="#111" stroke-width="1"/>
<line x1="286.6" y1="187.60000000000002" x2="288.8" y2="187.60000000000002" stroke="#111" stroke-width="1"/>
<rect x="291.40" y="235.77" width="4.60" height="26.23" fill="#aaaaaa"/>
<line x1="293.70000000000005" y1="235.77" x2="293.70000000000005" y2="234.57000000000002" stroke="#111" stroke-width="1"/>
<line x1="292.6" y1="234.57000000000002" x2="294.8" y2="234.57000000000002" stroke="#111" stroke-width="1"/>
<rect x="297.40" y="235.77" width="4.60" height="26.23" fill="#0a0a0a"/>
<line x1="299.70000000000005" y1="235.77" x2="299.70000000000005" y2="234.57000000000002" stroke="#111" stroke-width="1"/>
<line x1="298.6" y1="234.57000000000002" x2="300.8" y2="234.57000000000002" stroke="#111" stroke-width="1"/>
<rect x="313.30" y="235.77" width="4.60" height="26.23" fill="#c6c6c6"/>
<line x1="315.6" y1="235.77" x2="315.6" y2="234.57000000000002" stroke="#111" stroke-width="1"/>
<line x1="314.5" y1="234.57000000000002" x2="316.7" y2="234.57000000000002" stroke="#111" stroke-width="1"/>
<rect x="319.30" y="237.60" width="4.60" height="24.40" fill="#858585"/>
<line x1="321.6" y1="237.6" x2="321.6" y2="236.4" stroke="#111" stroke-width="1"/>
<line x1="320.5" y1="236.4" x2="322.7" y2="236.4" stroke="#111" stroke-width="1"/>
<rect x="325.30" y="236.38" width="4.60" height="25.62" fill="#aaaaaa"/>
<line x1="327.6" y1="236.38" x2="327.6" y2="235.18" stroke="#111" stroke-width="1"/>
<line x1="326.5" y1="235.18" x2="328.7" y2="235.18" stroke="#111" stroke-width="1"/>
<rect x="331.30" y="235.77" width="4.60" height="26.23" fill="#0a0a0a"/>
<line x1="333.6" y1="235.77" x2="333.6" y2="234.57000000000002" stroke="#111" stroke-width="1"/>
<line x1="332.5" y1="234.57000000000002" x2="334.7" y2="234.57000000000002" stroke="#111" stroke-width="1"/>
<rect x="337.90" y="240.04" width="4.60" height="21.96" fill="#c6c6c6"/>
<line x1="340.20000000000005" y1="240.04" x2="340.20000000000005" y2="238.84" stroke="#111" stroke-width="1"/>
<line x1="339.1" y1="238.84" x2="341.3" y2="238.84" stroke="#111" stroke-width="1"/>
<rect x="343.90" y="235.77" width="4.60" height="26.23" fill="#858585"/>
<line x1="346.20000000000005" y1="235.77" x2="346.20000000000005" y2="234.57000000000002" stroke="#111" stroke-width="1"/>
<line x1="345.1" y1="234.57000000000002" x2="347.3" y2="234.57000000000002" stroke="#111" stroke-width="1"/>
<rect x="349.90" y="241.26" width="4.60" height="20.74" fill="#aaaaaa"/>
<line x1="352.20000000000005" y1="241.26" x2="352.20000000000005" y2="240.06" stroke="#111" stroke-width="1"/>
<line x1="351.1" y1="240.06" x2="353.3" y2="240.06" stroke="#111" stroke-width="1"/>
<rect x="355.90" y="240.65" width="4.60" height="21.35" fill="#0a0a0a"/>
<line x1="358.20000000000005" y1="240.65" x2="358.20000000000005" y2="239.45000000000002" stroke="#111" stroke-width="1"/>
<line x1="357.1" y1="239.45000000000002" x2="359.3" y2="239.45000000000002" stroke="#111" stroke-width="1"/>
<text x="220.7" y="277.0" font-size="8" text-anchor="middle" fill="#111">p65</text>
<text x="278.5" y="277.0" font-size="8" text-anchor="middle" fill="#111">p50</text>
<text x="338.0" y="277.0" font-size="8" text-anchor="middle" fill="#111">p52</text>
<line x1="196.4" y1="171.8" x2="218.0" y2="171.8" stroke="#111" stroke-width="1.3"/>
<text x="207.2" y="169.0" font-size="9" text-anchor="middle" fill="#111">M</text>
<line x1="221.6" y1="171.8" x2="243.2" y2="171.8" stroke="#111" stroke-width="1.3"/>
<text x="232.39999999999998" y="169.0" font-size="9" text-anchor="middle" fill="#111">H</text>
<line x1="254.2" y1="171.8" x2="276.1" y2="171.8" stroke="#111" stroke-width="1.3"/>
<text x="265.15" y="169.0" font-size="9" text-anchor="middle" fill="#111">M</text>
<line x1="279.4" y1="171.8" x2="300.7" y2="171.8" stroke="#111" stroke-width="1.3"/>
<text x="290.04999999999995" y="169.0" font-size="9" text-anchor="middle" fill="#111">H</text>
<line x1="312.4" y1="171.8" x2="333.5" y2="171.8" stroke="#111" stroke-width="1.3"/>
<text x="322.95" y="169.0" font-size="9" text-anchor="middle" fill="#111">M</text>
<line x1="337.0" y1="171.8" x2="358.7" y2="171.8" stroke="#111" stroke-width="1.3"/>
<text x="347.85" y="169.0" font-size="9" text-anchor="middle" fill="#111">H</text>
<path d="M198.4,224.0 L198.4,222.2 L205.4,222.2 L205.4,224.6" stroke="#111" stroke-width="1.1" fill="none"/>
<path d="M205.4,222.2 L205.4,219.5 L219.4,219.5 L219.4,221.3" stroke="#111" stroke-width="1.1" fill="none"/>
<path d="M212.4,219.5 L212.4,221.3" stroke="#111" stroke-width="1.1" fill="none"/>
<circle cx="201.8" cy="218.0" r="1.15" fill="#1a1a1a"/>
<circle cx="212.0" cy="215.1" r="1.15" fill="#1a1a1a"/>
<path d="M255.4,192.60000000000002 L255.4,190.8 L263.0,190.8 L263.0,193.20000000000002" stroke="#111" stroke-width="1.1" fill="none"/>
<path d="M263.0,190.8 L263.0,187.9 L276.6,187.9 L276.6,189.70000000000002" stroke="#111" stroke-width="1.1" fill="none"/>
<path d="M269.8,187.9 L269.8,189.70000000000002" stroke="#111" stroke-width="1.1" fill="none"/>
<circle cx="259.3" cy="185.5" r="1.15" fill="#1a1a1a"/>
<circle cx="269.0" cy="183.0" r="1.15" fill="#1a1a1a"/>
<path d="M281.0,186.60000000000002 L281.0,184.8 L287.6,184.8 L287.6,187.20000000000002" stroke="#111" stroke-width="1.1" fill="none"/>
<path d="M287.6,184.8 L287.6,181.0 L302.4,181.0 L302.4,182.8" stroke="#111" stroke-width="1.1" fill="none"/>
<path d="M295.4,181.0 L295.4,182.8" stroke="#111" stroke-width="1.1" fill="none"/>
<circle cx="284.4" cy="179.8" r="1.15" fill="#1a1a1a"/>
<circle cx="295.0" cy="176.9" r="1.15" fill="#1a1a1a"/>
<path d="M338.8,234.60000000000002 L338.8,232.8 L345.8,232.8 L345.8,235.20000000000002" stroke="#111" stroke-width="1.1" fill="none"/>
<path d="M345.8,232.8 L345.8,229.5 L360.4,229.5 L360.4,231.3" stroke="#111" stroke-width="1.1" fill="none"/>
<path d="M353.4,229.5 L353.4,231.3" stroke="#111" stroke-width="1.1" fill="none"/>
<circle cx="342.3" cy="228.6" r="1.15" fill="#1a1a1a"/>
<circle cx="352.8" cy="225.5" r="1.15" fill="#1a1a1a"/>
<text x="378.3" y="174.0" font-size="7.8" fill="#111">MM1S (M)</text>
<text x="378.3" y="225.6" font-size="7.8" fill="#111">H929 (H)</text>
<rect x="378.80" y="176.30" width="5.00" height="5.00" fill="#c4c4c4"/>
<text x="389.5" y="181.60000000000002" font-size="7.8" fill="#111">Control</text>
<rect x="378.40" y="229.50" width="5.00" height="5.00" fill="#c4c4c4"/>
<text x="387.0" y="234.8" font-size="7.8" fill="#111">Control</text>
<rect x="378.80" y="185.70" width="5.00" height="5.00" fill="#7c7c7c"/>
<text x="389.5" y="191.00000000000003" font-size="7.8" fill="#111">APRIL</text>
<rect x="378.40" y="238.80" width="5.00" height="5.00" fill="#7c7c7c"/>
<text x="387.0" y="244.10000000000002" font-size="7.8" fill="#111">APRIL</text>
<rect x="378.80" y="195.10" width="5.00" height="5.00" fill="#a4a4a4"/>
<text x="389.5" y="200.40000000000003" font-size="7.8" fill="#111">+01Ab</text>
<rect x="378.40" y="248.10" width="5.00" height="5.00" fill="#a4a4a4"/>
<text x="387.0" y="253.4" font-size="7.8" fill="#111">+01Ab</text>
<rect x="378.80" y="204.50" width="5.00" height="5.00" fill="#0a0a0a"/>
<text x="389.5" y="209.8" font-size="7.8" fill="#111">Both</text>
<rect x="378.40" y="257.40" width="5.00" height="5.00" fill="#0a0a0a"/>
<text x="387.0" y="262.7" font-size="7.8" fill="#111">Both</text>
<text x="0" y="0" font-size="11" font-weight="bold" transform="translate(6.8 303.0) scale(1 1.08)" fill="#000">E</text>
<text x="71.2" y="316.0" font-size="9.8" text-anchor="middle" fill="#111">MM1S</text>
<text x="170.0" y="316.0" font-size="9.8" text-anchor="middle" fill="#111">H929</text>
<line x1="39.6" y1="318.6" x2="39.6" y2="390.0" stroke="#111" stroke-width="1.2"/>
<line x1="39.6" y1="389.6" x2="101.6" y2="389.6" stroke="#111" stroke-width="1.2"/>
<line x1="36.6" y1="321.8" x2="39.6" y2="321.8" stroke="#111" stroke-width="1"/>
<text x="34.0" y="324.7" font-size="8" text-anchor="end" fill="#111">450</text>
<line x1="36.6" y1="335.36" x2="39.6" y2="335.36" stroke="#111" stroke-width="1"/>
<text x="34.0" y="338.26" font-size="8" text-anchor="end" fill="#111">360</text>
<line x1="36.6" y1="348.92" x2="39.6" y2="348.92" stroke="#111" stroke-width="1"/>
<text x="34.0" y="351.82" font-size="8" text-anchor="end" fill="#111">270</text>
<line x1="36.6" y1="362.48" x2="39.6" y2="362.48" stroke="#111" stroke-width="1"/>
<text x="34.0" y="365.38" font-size="8" text-anchor="end" fill="#111">180</text>
<line x1="36.6" y1="376.04" x2="39.6" y2="376.04" stroke="#111" stroke-width="1"/>
<text x="34.0" y="378.94" font-size="8" text-anchor="end" fill="#111">90</text>
<line x1="36.6" y1="389.6" x2="39.6" y2="389.6" stroke="#111" stroke-width="1"/>
<text x="34.0" y="392.5" font-size="8" text-anchor="end" fill="#111">0</text>
<line x1="39.8" y1="389.6" x2="39.8" y2="392.0" stroke="#111" stroke-width="1"/>
<line x1="60.4" y1="389.6" x2="60.4" y2="392.0" stroke="#111" stroke-width="1"/>
<line x1="81.0" y1="389.6" x2="81.0" y2="392.0" stroke="#111" stroke-width="1"/>
<line x1="101.4" y1="389.6" x2="101.4" y2="392.0" stroke="#111" stroke-width="1"/>
<rect x="42.60" y="359.77" width="3.95" height="29.83" fill="#c8c8c8"/>
<line x1="44.57" y1="359.76800000000003" x2="44.57" y2="357.96000000000004" stroke="#111" stroke-width="1"/>
<line x1="43.27" y1="357.96000000000004" x2="45.87" y2="357.96000000000004" stroke="#111" stroke-width="1"/>
<rect x="46.55" y="359.47" width="3.95" height="30.13" fill="#8a8a8a"/>
<line x1="48.52" y1="359.4666666666667" x2="48.52" y2="357.96000000000004" stroke="#111" stroke-width="1"/>
<line x1="47.220000000000006" y1="357.96000000000004" x2="49.82" y2="357.96000000000004" stroke="#111" stroke-width="1"/>
<rect x="50.50" y="358.86" width="3.95" height="30.74" fill="#a8a8a8"/>
<line x1="52.47" y1="358.86400000000003" x2="52.47" y2="357.05600000000004" stroke="#111" stroke-width="1"/>
<line x1="51.17" y1="357.05600000000004" x2="53.769999999999996" y2="357.05600000000004" stroke="#111" stroke-width="1"/>
<rect x="54.45" y="358.26" width="3.95" height="31.34" fill="#0a0a0a"/>
<line x1="56.42" y1="358.26133333333337" x2="56.42" y2="357.6586666666667" stroke="#111" stroke-width="1"/>
<line x1="55.120000000000005" y1="357.6586666666667" x2="57.72" y2="357.6586666666667" stroke="#111" stroke-width="1"/>
<rect x="63.00" y="347.71" width="3.95" height="41.89" fill="#c8c8c8"/>
<line x1="64.97" y1="347.7146666666667" x2="64.97" y2="338.37333333333333" stroke="#111" stroke-width="1"/>
<line x1="63.67" y1="338.37333333333333" x2="66.27" y2="338.37333333333333" stroke="#111" stroke-width="1"/>
<rect x="66.95" y="355.25" width="3.95" height="34.35" fill="#8a8a8a"/>
<line x1="68.92" y1="355.24800000000005" x2="68.92" y2="347.41333333333336" stroke="#111" stroke-width="1"/>
<line x1="67.62" y1="347.41333333333336" x2="70.22" y2="347.41333333333336" stroke="#111" stroke-width="1"/>
<rect x="70.90" y="358.86" width="3.95" height="30.74" fill="#a8a8a8"/>
<line x1="72.87" y1="358.86400000000003" x2="72.87" y2="355.5493333333334" stroke="#111" stroke-width="1"/>
<line x1="71.57000000000001" y1="355.5493333333334" x2="74.17" y2="355.5493333333334" stroke="#111" stroke-width="1"/>
<rect x="74.85" y="359.77" width="3.95" height="29.83" fill="#0a0a0a"/>
<line x1="76.82" y1="359.76800000000003" x2="76.82" y2="358.26133333333337" stroke="#111" stroke-width="1"/>
<line x1="75.52" y1="358.26133333333337" x2="78.11999999999999" y2="358.26133333333337" stroke="#111" stroke-width="1"/>
<rect x="83.60" y="327.07" width="3.95" height="62.53" fill="#c8c8c8"/>
<line x1="85.57" y1="327.0733333333334" x2="85.57" y2="325.86800000000005" stroke="#111" stroke-width="1"/>
<line x1="84.27" y1="325.86800000000005" x2="86.86999999999999" y2="325.86800000000005" stroke="#111" stroke-width="1"/>
<rect x="87.55" y="345.15" width="3.95" height="44.45" fill="#8a8a8a"/>
<line x1="89.52" y1="345.15333333333336" x2="89.52" y2="336.11333333333334" stroke="#111" stroke-width="1"/>
<line x1="88.22" y1="336.11333333333334" x2="90.82" y2="336.11333333333334" stroke="#111" stroke-width="1"/>
<rect x="91.50" y="341.69" width="3.95" height="47.91" fill="#a8a8a8"/>
<line x1="93.47" y1="341.68800000000005" x2="93.47" y2="335.66133333333335" stroke="#111" stroke-width="1"/>
<line x1="92.17" y1="335.66133333333335" x2="94.77" y2="335.66133333333335" stroke="#111" stroke-width="1"/>
<rect x="95.45" y="360.52" width="3.95" height="29.08" fill="#0a0a0a"/>
<line x1="97.41999999999999" y1="360.52133333333336" x2="97.41999999999999" y2="351.48133333333334" stroke="#111" stroke-width="1"/>
<line x1="96.11999999999999" y1="351.48133333333334" x2="98.71999999999998" y2="351.48133333333334" stroke="#111" stroke-width="1"/>
<text x="50.8" y="402.4" font-size="8.4" text-anchor="middle" fill="#111">0</text>
<text x="70.8" y="402.4" font-size="8.4" text-anchor="middle" fill="#111">10</text>
<text x="91.4" y="402.4" font-size="8.4" text-anchor="middle" fill="#111">100</text>
<text x="70.0" y="413.6" font-size="9" text-anchor="middle" fill="#111">APRIL(ng/ml)</text>
<text x="14.4" y="356.0" font-size="9" text-anchor="middle" transform="rotate(-90 14.4 356.0)" fill="#111">RLU</text>
<line x1="133.4" y1="319.6" x2="133.4" y2="389.8" stroke="#111" stroke-width="1.2"/>
<line x1="133.4" y1="389.4" x2="205.8" y2="389.4" stroke="#111" stroke-width="1.2"/>
<line x1="130.4" y1="321.79999999999995" x2="133.4" y2="321.79999999999995" stroke="#111" stroke-width="1"/>
<text x="129.0" y="324.69999999999993" font-size="8" text-anchor="end" fill="#111">480</text>
<line x1="130.4" y1="338.7" x2="133.4" y2="338.7" stroke="#111" stroke-width="1"/>
<text x="129.0" y="341.59999999999997" font-size="8" text-anchor="end" fill="#111">360</text>
<line x1="130.4" y1="355.59999999999997" x2="133.4" y2="355.59999999999997" stroke="#111" stroke-width="1"/>
<text x="129.0" y="358.49999999999994" font-size="8" text-anchor="end" fill="#111">240</text>
<line x1="130.4" y1="372.5" x2="133.4" y2="372.5" stroke="#111" stroke-width="1"/>
<text x="129.0" y="375.4" font-size="8" text-anchor="end" fill="#111">120</text>
<line x1="130.4" y1="389.4" x2="133.4" y2="389.4" stroke="#111" stroke-width="1"/>
<text x="129.0" y="392.29999999999995" font-size="8" text-anchor="end" fill="#111">0</text>
<line x1="133.6" y1="389.4" x2="133.6" y2="391.8" stroke="#111" stroke-width="1"/>
<line x1="157.6" y1="389.4" x2="157.6" y2="391.8" stroke="#111" stroke-width="1"/>
<line x1="181.6" y1="389.4" x2="181.6" y2="391.8" stroke="#111" stroke-width="1"/>
<line x1="205.6" y1="389.4" x2="205.6" y2="391.8" stroke="#111" stroke-width="1"/>
<rect x="137.80" y="354.47" width="4.15" height="34.93" fill="#c8c8c8"/>
<line x1="139.87" y1="354.4733333333333" x2="139.87" y2="351.0933333333333" stroke="#111" stroke-width="1"/>
<line x1="138.57" y1="351.0933333333333" x2="141.17000000000002" y2="351.0933333333333" stroke="#111" stroke-width="1"/>
<rect x="141.95" y="352.08" width="4.15" height="37.32" fill="#8a8a8a"/>
<line x1="144.02" y1="352.07916666666665" x2="144.02" y2="349.8258333333333" stroke="#111" stroke-width="1"/>
<line x1="142.72" y1="349.8258333333333" x2="145.32000000000002" y2="349.8258333333333" stroke="#111" stroke-width="1"/>
<rect x="146.10" y="353.06" width="4.15" height="36.33" fill="#a8a8a8"/>
<line x1="148.17000000000002" y1="353.065" x2="148.17000000000002" y2="351.65666666666664" stroke="#111" stroke-width="1"/>
<line x1="146.87" y1="351.65666666666664" x2="149.47000000000003" y2="351.65666666666664" stroke="#111" stroke-width="1"/>
<rect x="150.25" y="357.01" width="4.15" height="32.39" fill="#0a0a0a"/>
<line x1="152.32" y1="357.0083333333333" x2="152.32" y2="356.1633333333333" stroke="#111" stroke-width="1"/>
<line x1="151.01999999999998" y1="356.1633333333333" x2="153.62" y2="356.1633333333333" stroke="#111" stroke-width="1"/>
<rect x="161.20" y="338.42" width="4.15" height="50.98" fill="#c8c8c8"/>
<line x1="163.26999999999998" y1="338.4183333333333" x2="163.26999999999998" y2="337.5733333333333" stroke="#111" stroke-width="1"/>
<line x1="161.96999999999997" y1="337.5733333333333" x2="164.57" y2="337.5733333333333" stroke="#111" stroke-width="1"/>
<rect x="165.35" y="340.39" width="4.15" height="49.01" fill="#8a8a8a"/>
<line x1="167.42" y1="340.39" x2="167.42" y2="336.44666666666666" stroke="#111" stroke-width="1"/>
<line x1="166.11999999999998" y1="336.44666666666666" x2="168.72" y2="336.44666666666666" stroke="#111" stroke-width="1"/>
<rect x="169.50" y="355.60" width="4.15" height="33.80" fill="#a8a8a8"/>
<line x1="171.57" y1="355.59999999999997" x2="171.57" y2="354.4733333333333" stroke="#111" stroke-width="1"/>
<line x1="170.26999999999998" y1="354.4733333333333" x2="172.87" y2="354.4733333333333" stroke="#111" stroke-width="1"/>
<rect x="173.65" y="373.63" width="4.15" height="15.77" fill="#0a0a0a"/>
<line x1="175.71999999999997" y1="373.62666666666667" x2="175.71999999999997" y2="373.06333333333333" stroke="#111" stroke-width="1"/>
<line x1="174.41999999999996" y1="373.06333333333333" x2="177.01999999999998" y2="373.06333333333333" stroke="#111" stroke-width="1"/>
<rect x="184.80" y="329.55" width="4.15" height="59.85" fill="#c8c8c8"/>
<line x1="186.87" y1="329.54583333333335" x2="186.87" y2="327.0108333333333" stroke="#111" stroke-width="1"/>
<line x1="185.57" y1="327.0108333333333" x2="188.17000000000002" y2="327.0108333333333" stroke="#111" stroke-width="1"/>
<rect x="188.95" y="337.01" width="4.15" height="52.39" fill="#8a8a8a"/>
<line x1="191.02" y1="337.01" x2="191.02" y2="329.9683333333333" stroke="#111" stroke-width="1"/>
<line x1="189.72" y1="329.9683333333333" x2="192.32000000000002" y2="329.9683333333333" stroke="#111" stroke-width="1"/>
<rect x="193.10" y="349.40" width="4.15" height="40.00" fill="#a8a8a8"/>
<line x1="195.17000000000002" y1="349.4033333333333" x2="195.17000000000002" y2="344.3333333333333" stroke="#111" stroke-width="1"/>
<line x1="193.87" y1="344.3333333333333" x2="196.47000000000003" y2="344.3333333333333" stroke="#111" stroke-width="1"/>
<rect x="197.25" y="368.84" width="4.15" height="20.56" fill="#0a0a0a"/>
<line x1="199.32" y1="368.8383333333333" x2="199.32" y2="366.585" stroke="#111" stroke-width="1"/>
<line x1="198.01999999999998" y1="366.585" x2="200.62" y2="366.585" stroke="#111" stroke-width="1"/>
<text x="146.0" y="402.4" font-size="8.4" text-anchor="middle" fill="#111">0</text>
<text x="170.6" y="402.4" font-size="8.4" text-anchor="middle" fill="#111">10</text>
<text x="193.4" y="402.4" font-size="8.4" text-anchor="middle" fill="#111">100</text>
<text x="172.0" y="413.6" font-size="9" text-anchor="middle" fill="#111">APRIL(ng/ml)</text>
<text x="209.8" y="321.4" font-size="8" fill="#111">01A</text>
<rect x="210.00" y="326.10" width="5.20" height="4.80" fill="#c8c8c8"/>
<text x="216.6" y="331.3" font-size="8" fill="#111">0 &#181;g/ml</text>
<rect x="210.00" y="339.80" width="5.20" height="4.80" fill="#8a8a8a"/>
<text x="216.6" y="345.0" font-size="8" fill="#111">10</text>
<rect x="210.00" y="353.50" width="5.20" height="4.80" fill="#a8a8a8"/>
<text x="216.6" y="358.7" font-size="8" fill="#111">20</text>
<rect x="210.00" y="367.20" width="5.20" height="4.80" fill="#0a0a0a"/>
<text x="216.6" y="372.40000000000003" font-size="8" fill="#111">50</text>
<text x="0" y="0" font-size="11.4" font-weight="bold" transform="translate(258.3 303.4) scale(1 1.12)" fill="#000">F</text>
<line x1="289.2" y1="319.0" x2="289.2" y2="389.4" stroke="#111" stroke-width="1.2"/>
<line x1="289.2" y1="389.0" x2="358.4" y2="389.0" stroke="#111" stroke-width="1.2"/>
<line x1="286.4" y1="322.7" x2="289.2" y2="322.7" stroke="#111" stroke-width="1"/>
<text x="284.6" y="325.59999999999997" font-size="8" text-anchor="end" fill="#111">300</text>
<line x1="286.4" y1="344.8" x2="289.2" y2="344.8" stroke="#111" stroke-width="1"/>
<text x="284.6" y="347.7" font-size="8" text-anchor="end" fill="#111">200</text>
<line x1="286.4" y1="366.9" x2="289.2" y2="366.9" stroke="#111" stroke-width="1"/>
<text x="284.6" y="369.79999999999995" font-size="8" text-anchor="end" fill="#111">100</text>
<line x1="286.4" y1="389.0" x2="289.2" y2="389.0" stroke="#111" stroke-width="1"/>
<text x="284.6" y="391.9" font-size="8" text-anchor="end" fill="#111">0</text>
<line x1="287.0" y1="333.75" x2="289.2" y2="333.75" stroke="#111" stroke-width="1"/>
<line x1="287.0" y1="355.85" x2="289.2" y2="355.85" stroke="#111" stroke-width="1"/>
<line x1="287.0" y1="377.95" x2="289.2" y2="377.95" stroke="#111" stroke-width="1"/>
<line x1="289.8" y1="389.0" x2="289.8" y2="391.4" stroke="#111" stroke-width="1"/>
<line x1="306.7" y1="389.0" x2="306.7" y2="391.4" stroke="#111" stroke-width="1"/>
<line x1="323.7" y1="389.0" x2="323.7" y2="391.4" stroke="#111" stroke-width="1"/>
<line x1="340.5" y1="389.0" x2="340.5" y2="391.4" stroke="#111" stroke-width="1"/>
<line x1="357.5" y1="389.0" x2="357.5" y2="391.4" stroke="#111" stroke-width="1"/>
<rect x="295.00" y="360.27" width="6.60" height="28.73" fill="#c4c4c4"/>
<line x1="298.3" y1="360.27" x2="298.3" y2="360.049" stroke="#111" stroke-width="1"/>
<line x1="296.8" y1="360.049" x2="299.8" y2="360.049" stroke="#111" stroke-width="1"/>
<rect x="311.90" y="342.59" width="6.60" height="46.41" fill="#7c7c7c"/>
<line x1="315.2" y1="342.59000000000003" x2="315.2" y2="332.866" stroke="#111" stroke-width="1"/>
<line x1="313.7" y1="332.866" x2="316.7" y2="332.866" stroke="#111" stroke-width="1"/>
<rect x="328.80" y="357.62" width="6.60" height="31.38" fill="#a4a4a4"/>
<line x1="332.1" y1="357.618" x2="332.1" y2="356.734" stroke="#111" stroke-width="1"/>
<line x1="330.6" y1="356.734" x2="333.6" y2="356.734" stroke="#111" stroke-width="1"/>
<rect x="345.70" y="356.73" width="6.60" height="32.27" fill="#0a0a0a"/>
<line x1="349.0" y1="356.734" x2="349.0" y2="356.29200000000003" stroke="#111" stroke-width="1"/>
<line x1="347.5" y1="356.29200000000003" x2="350.5" y2="356.29200000000003" stroke="#111" stroke-width="1"/>
<path d="M296.4,332.2 L296.4,329.9 L314.2,329.9 L315.2,332.0 L316.2,329.9 L334.4,329.9 L334.4,332.0" stroke="#111" stroke-width="1.1" fill="none"/>
<path d="M315.9,328.4 L315.9,325.6 L349.7,325.6 L349.7,328.6" stroke="#111" stroke-width="1.1" fill="none"/>
<circle cx="305.6" cy="325.0" r="1.15" fill="#1a1a1a"/>
<circle cx="333.0" cy="321.6" r="1.15" fill="#1a1a1a"/>
<text x="264.8" y="356.0" font-size="9" text-anchor="middle" transform="rotate(-90 264.8 356.0)" fill="#111">RLU</text>
<text x="298.6" y="400.2" font-size="8.2" text-anchor="end" transform="rotate(-45 298.6 400.2)" fill="#111">-</text>
<text x="319.4" y="400.6" font-size="8.2" text-anchor="end" transform="rotate(-45 319.4 400.6)" fill="#111">APRIL</text>
<text x="336.4" y="400.0" font-size="8.2" text-anchor="end" transform="rotate(-45 336.4 400.0)" fill="#111">01A</text>
<text x="353.8" y="400.4" font-size="8.2" text-anchor="end" transform="rotate(-45 353.8 400.4)" fill="#111">APRIL+01A</text>
<text x="0" y="0" font-size="10.8" font-weight="bold" transform="translate(380.1 303.4) scale(1 1.04)" fill="#000">G</text>
<text x="434.3" y="322.8" font-size="9.8" text-anchor="middle" fill="#111">H929</text>
<text x="485.2" y="322.8" font-size="9.4" text-anchor="middle" fill="#111">INA6</text>
<line x1="409.4" y1="330.0" x2="409.4" y2="389.6" stroke="#111" stroke-width="1.2"/>
<line x1="409.4" y1="389.2" x2="510.0" y2="389.2" stroke="#111" stroke-width="1.2"/>
<line x1="406.6" y1="389.2" x2="409.4" y2="389.2" stroke="#111" stroke-width="1"/>
<text x="402.8" y="392.09999999999997" font-size="8" text-anchor="end" fill="#111">0</text>
<line x1="407.4" y1="382.90999999999997" x2="409.4" y2="382.90999999999997" stroke="#111" stroke-width="1"/>
<line x1="407.4" y1="376.62" x2="409.4" y2="376.62" stroke="#111" stroke-width="1"/>
<line x1="406.6" y1="370.33" x2="409.4" y2="370.33" stroke="#111" stroke-width="1"/>
<text x="402.8" y="373.22999999999996" font-size="8" text-anchor="end" fill="#111">3</text>
<line x1="407.4" y1="364.03999999999996" x2="409.4" y2="364.03999999999996" stroke="#111" stroke-width="1"/>
<line x1="407.4" y1="357.75" x2="409.4" y2="357.75" stroke="#111" stroke-width="1"/>
<line x1="406.6" y1="351.46" x2="409.4" y2="351.46" stroke="#111" stroke-width="1"/>
<text x="402.8" y="354.35999999999996" font-size="8" text-anchor="end" fill="#111">6</text>
<line x1="407.4" y1="345.16999999999996" x2="409.4" y2="345.16999999999996" stroke="#111" stroke-width="1"/>
<line x1="407.4" y1="338.88" x2="409.4" y2="338.88" stroke="#111" stroke-width="1"/>
<line x1="406.6" y1="332.59" x2="409.4" y2="332.59" stroke="#111" stroke-width="1"/>
<text x="402.8" y="335.48999999999995" font-size="8" text-anchor="end" fill="#111">9</text>
<line x1="410.0" y1="389.0" x2="410.0" y2="391.4" stroke="#111" stroke-width="1"/>
<line x1="459.6" y1="389.0" x2="459.6" y2="391.4" stroke="#111" stroke-width="1"/>
<line x1="509.4" y1="389.0" x2="509.4" y2="391.4" stroke="#111" stroke-width="1"/>
<rect x="414.20" y="381.59" width="6.20" height="7.41" fill="#c4c4c4"/>
<line x1="417.4" y1="381.5891" x2="417.4" y2="380.9601" stroke="#111" stroke-width="1"/>
<line x1="415.9" y1="380.9601" x2="418.9" y2="380.9601" stroke="#111" stroke-width="1"/>
<rect x="421.55" y="360.01" width="6.75" height="28.99" fill="#050505"/>
<line x1="424.75" y1="360.01439999999997" x2="424.75" y2="357.8129" stroke="#111" stroke-width="1"/>
<line x1="423.25" y1="357.8129" x2="426.25" y2="357.8129" stroke="#111" stroke-width="1"/>
<rect x="428.30" y="370.39" width="6.75" height="18.61" fill="#3a3a3a"/>
<line x1="431.5" y1="370.3929" x2="431.5" y2="369.7639" stroke="#111" stroke-width="1"/>
<line x1="430.0" y1="369.7639" x2="433.0" y2="369.7639" stroke="#111" stroke-width="1"/>
<rect x="435.05" y="377.69" width="6.75" height="11.31" fill="#606060"/>
<line x1="438.25" y1="377.6893" x2="438.25" y2="377.0603" stroke="#111" stroke-width="1"/>
<line x1="436.75" y1="377.0603" x2="439.75" y2="377.0603" stroke="#111" stroke-width="1"/>
<rect x="441.80" y="381.21" width="6.75" height="7.79" fill="#7c7c7c"/>
<line x1="445.0" y1="381.2117" x2="445.0" y2="380.5827" stroke="#111" stroke-width="1"/>
<line x1="443.5" y1="380.5827" x2="446.5" y2="380.5827" stroke="#111" stroke-width="1"/>
<rect x="448.55" y="382.60" width="6.75" height="6.40" fill="#a2a2a2"/>
<line x1="451.75" y1="382.5955" x2="451.75" y2="381.9665" stroke="#111" stroke-width="1"/>
<line x1="450.25" y1="381.9665" x2="453.25" y2="381.9665" stroke="#111" stroke-width="1"/>
<rect x="464.60" y="370.20" width="6.20" height="18.80" fill="#c4c4c4"/>
<line x1="467.8" y1="370.2042" x2="467.8" y2="369.5752" stroke="#111" stroke-width="1"/>
<line x1="466.3" y1="369.5752" x2="469.3" y2="369.5752" stroke="#111" stroke-width="1"/>
<rect x="471.95" y="338.88" width="6.75" height="50.12" fill="#050505"/>
<line x1="475.15000000000003" y1="338.88" x2="475.15000000000003" y2="336.04949999999997" stroke="#111" stroke-width="1"/>
<line x1="473.65000000000003" y1="336.04949999999997" x2="476.65000000000003" y2="336.04949999999997" stroke="#111" stroke-width="1"/>
<rect x="478.70" y="359.32" width="6.75" height="29.68" fill="#3a3a3a"/>
<line x1="481.90000000000003" y1="359.3225" x2="481.90000000000003" y2="358.6935" stroke="#111" stroke-width="1"/>
<line x1="480.40000000000003" y1="358.6935" x2="483.40000000000003" y2="358.6935" stroke="#111" stroke-width="1"/>
<rect x="485.45" y="357.88" width="6.75" height="31.12" fill="#606060"/>
<line x1="488.65000000000003" y1="357.87579999999997" x2="488.65000000000003" y2="356.9323" stroke="#111" stroke-width="1"/>
<line x1="487.15000000000003" y1="356.9323" x2="490.15000000000003" y2="356.9323" stroke="#111" stroke-width="1"/>
<rect x="492.20" y="357.88" width="6.75" height="31.12" fill="#7c7c7c"/>
<line x1="495.40000000000003" y1="357.87579999999997" x2="495.40000000000003" y2="356.9323" stroke="#111" stroke-width="1"/>
<line x1="493.90000000000003" y1="356.9323" x2="496.90000000000003" y2="356.9323" stroke="#111" stroke-width="1"/>
<rect x="498.95" y="370.20" width="6.75" height="18.80" fill="#a2a2a2"/>
<line x1="502.15000000000003" y1="370.2042" x2="502.15000000000003" y2="369.5752" stroke="#111" stroke-width="1"/>
<line x1="500.65000000000003" y1="369.5752" x2="503.65000000000003" y2="369.5752" stroke="#111" stroke-width="1"/>
<path d="M415.6,352.0 L415.6,350.6 Q415.8,350.0 416.4,350.0 L421.6,350.0 Q423.0,350.2 423.2,353.4" stroke="#111" stroke-width="1.1" fill="none"/>
<path d="M423.0,352.8 L455.5,352.8 L455.5,354.6" stroke="#111" stroke-width="1.1" fill="none"/>
<line x1="431.0" y1="352.8" x2="431.0" y2="354.6" stroke="#111" stroke-width="1"/>
<line x1="439.0" y1="352.8" x2="439.0" y2="354.6" stroke="#111" stroke-width="1"/>
<line x1="447.0" y1="352.8" x2="447.0" y2="354.6" stroke="#111" stroke-width="1"/>
<circle cx="419.5" cy="344.8" r="1.15" fill="#1a1a1a"/>
<circle cx="439.0" cy="347.5" r="1.15" fill="#1a1a1a"/>
<path d="M465.6,332.2 L465.6,331.1 Q465.8,330.5 466.4,330.5 L471.8,330.5 Q473.2,330.7 473.4,333.8" stroke="#111" stroke-width="1.1" fill="none"/>
<path d="M473.2,333.0 L505.5,333.0 L505.5,334.8" stroke="#111" stroke-width="1.1" fill="none"/>
<line x1="481.5" y1="333.0" x2="481.5" y2="334.8" stroke="#111" stroke-width="1"/>
<line x1="489.2" y1="333.0" x2="489.2" y2="334.8" stroke="#111" stroke-width="1"/>
<line x1="497.0" y1="333.0" x2="497.0" y2="334.8" stroke="#111" stroke-width="1"/>
<circle cx="469.5" cy="325.2" r="1.15" fill="#1a1a1a"/>
<circle cx="489.5" cy="328.0" r="1.15" fill="#1a1a1a"/>
<text x="392.0" y="360.9" font-size="9" text-anchor="middle" transform="rotate(-90 392.0 360.9)" fill="#111">Cell # (10<tspan font-size="5.8" dy="-3.2">4</tspan><tspan dy="3.2">)</tspan></text>
<line x1="424.0" y1="404.4" x2="454.7" y2="404.4" stroke="#111" stroke-width="1.3"/>
<text x="439.0" y="401.8" font-size="8" text-anchor="middle" fill="#111">APRIL</text>
<text x="418.4" y="401.8" font-size="8" text-anchor="middle" fill="#111">-</text>
<line x1="475.9" y1="404.4" x2="507.1" y2="404.4" stroke="#111" stroke-width="1.3"/>
<text x="491.0" y="401.8" font-size="8" text-anchor="middle" fill="#111">APRIL</text>
<text x="470.2" y="401.8" font-size="8" text-anchor="middle" fill="#111">-</text>
<text x="403.0" y="415.0" font-size="8.2" text-anchor="end" fill="#111">(&#181;g/ml)</text>
<text x="421.0" y="408.0" font-size="8" text-anchor="end" transform="rotate(-90 421.0 408.0)" fill="#111">01A</text>
<text x="428.8" y="408.0" font-size="8" text-anchor="end" transform="rotate(-90 428.8 408.0)" fill="#111">0</text>
<text x="436.8" y="408.0" font-size="8" text-anchor="end" transform="rotate(-90 436.8 408.0)" fill="#111">10</text>
<text x="445.40000000000003" y="408.0" font-size="8" text-anchor="end" transform="rotate(-90 445.40000000000003 408.0)" fill="#111">50</text>
<text x="454.40000000000003" y="408.0" font-size="8" text-anchor="end" transform="rotate(-90 454.40000000000003 408.0)" fill="#111">100</text>
<text x="473.7" y="408.0" font-size="8" text-anchor="end" transform="rotate(-90 473.7 408.0)" fill="#111">01A</text>
<text x="481.3" y="408.0" font-size="8" text-anchor="end" transform="rotate(-90 481.3 408.0)" fill="#111">0</text>
<text x="489.6" y="408.0" font-size="8" text-anchor="end" transform="rotate(-90 489.6 408.0)" fill="#111">10</text>
<text x="498.1" y="408.0" font-size="8" text-anchor="end" transform="rotate(-90 498.1 408.0)" fill="#111">50</text>
<text x="507.2" y="408.0" font-size="8" text-anchor="end" transform="rotate(-90 507.2 408.0)" fill="#111">100</text>
</g>
</svg></div>
</body></html>
